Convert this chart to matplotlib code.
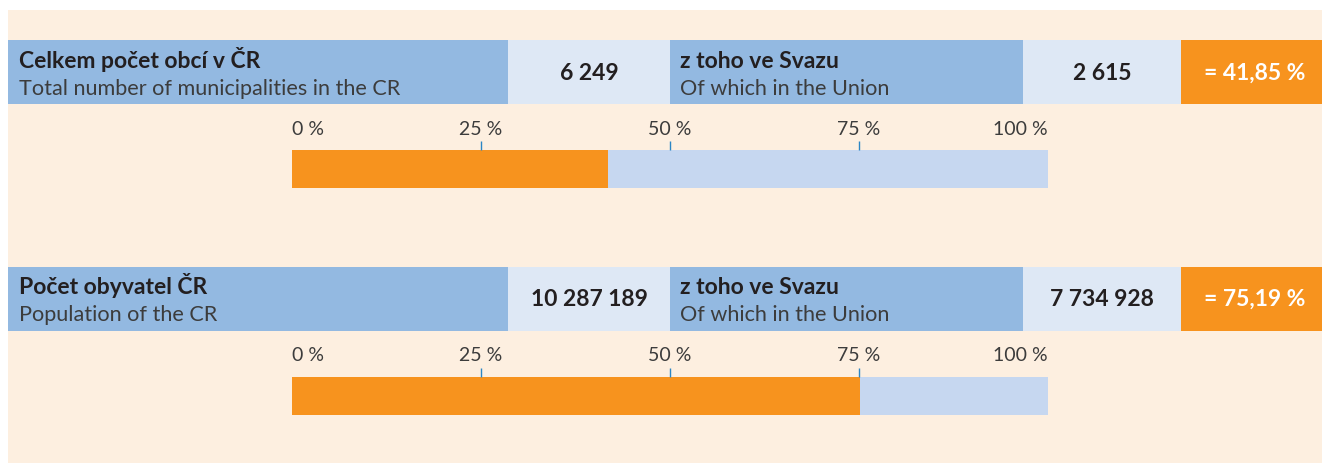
import matplotlib.pyplot as plt
from matplotlib.patches import Rectangle

plt.rcParams['font.family'] = ['Lato', 'DejaVu Sans']

# data
labels_cz = ['Celkem počet obcí v ČR', 'Počet obyvatel ČR']
labels_en = ['Total number of municipalities in the CR', 'Population of the CR']
totals = [6249, 10287189]
in_union = [2615, 7734928]
tick_vals = [0, 25, 50, 75, 100]
tick_text = ['0 %', '25 %', '50 %', '75 %', '100 %']

# colours
bg = '#fdefe0'
blue = '#93b9e1'
light = '#dee8f5'
bar_light = '#c6d7f0'
orange = '#f7931e'
dark = '#231f20'
grey = '#3c3c3c'
tick_col = '#2b86c5'

W, H = 1322, 464
fig = plt.figure(figsize=(W / 100, H / 100), dpi=100)
fig.patch.set_facecolor('white')

# canvas axes in pixel coordinates for the panel and header boxes
cv = fig.add_axes([0, 0, 1, 1])
cv.set_xlim(0, W)
cv.set_ylim(H, 0)
cv.axis('off')
cv.add_patch(Rectangle((8, 11), W - 8, H - 11, color=bg, lw=0))


def fmt(n):
    return f'{n:,}'.replace(',', ' ')


row_step = 226.5
for i in range(len(totals)):
    y0 = 41 + i * row_step
    h = 64
    share = in_union[i] / totals[i] * 100

    # header boxes
    cv.add_patch(Rectangle((8, y0), 500, h, color=blue, lw=0))
    cv.add_patch(Rectangle((508, y0), 162, h, color=light, lw=0))
    cv.add_patch(Rectangle((670, y0), 353, h, color=blue, lw=0))
    cv.add_patch(Rectangle((1023, y0), 158, h, color=light, lw=0))
    cv.add_patch(Rectangle((1181, y0), W - 1181, h, color=orange, lw=0))

    cv.text(19, y0 + 27, labels_cz[i], fontsize=16.5, fontweight='bold',
            color=dark, va='baseline')
    cv.text(19, y0 + 54, labels_en[i], fontsize=15.6, color=grey, va='baseline')
    cv.text(589, y0 + h / 2, fmt(totals[i]), fontsize=16.5, fontweight='bold',
            color=dark, ha='center', va='center')
    cv.text(680, y0 + 27, 'z toho ve Svazu', fontsize=16.5, fontweight='bold',
            color=dark, va='baseline')
    cv.text(680, y0 + 54, 'Of which in the Union', fontsize=15.6, color=grey,
            va='baseline')
    cv.text(1102, y0 + h / 2, fmt(in_union[i]), fontsize=16.5, fontweight='bold',
            color=dark, ha='center', va='center')
    cv.text(1255, y0 + h / 2, f'= {share:.2f} %'.replace('.', ','), fontsize=16.5,
            fontweight='bold', color='white', ha='center', va='center')

    # percentage bar
    by = 151 + i * row_step
    ax = fig.add_axes([292 / W, 1 - (by + 38) / H, 756 / W, 38 / H])
    ax.barh(0, share, height=1, color=orange, lw=0)
    ax.barh(0, 100 - share, left=share, height=1, color=bar_light, lw=0)
    ax.set_xlim(0, 100)
    ax.set_ylim(-0.5, 0.5)
    ax.set_yticks([])
    for s in ax.spines.values():
        s.set_visible(False)
    ax.patch.set_alpha(0)
    ax.xaxis.tick_top()
    ax.set_xticks(tick_vals)
    ax.set_xticklabels(tick_text, fontsize=14, color=grey)
    ax.tick_params(axis='x', length=6.5, width=1, color=tick_col, pad=3)
    ticks = ax.xaxis.get_major_ticks()
    ticks[0].tick2line.set_visible(False)
    ticks[-1].tick2line.set_visible(False)
    lbls = ax.get_xticklabels()
    lbls[0].set_ha('left')
    lbls[-1].set_ha('right')

fig.savefig('out.png', dpi=100)
